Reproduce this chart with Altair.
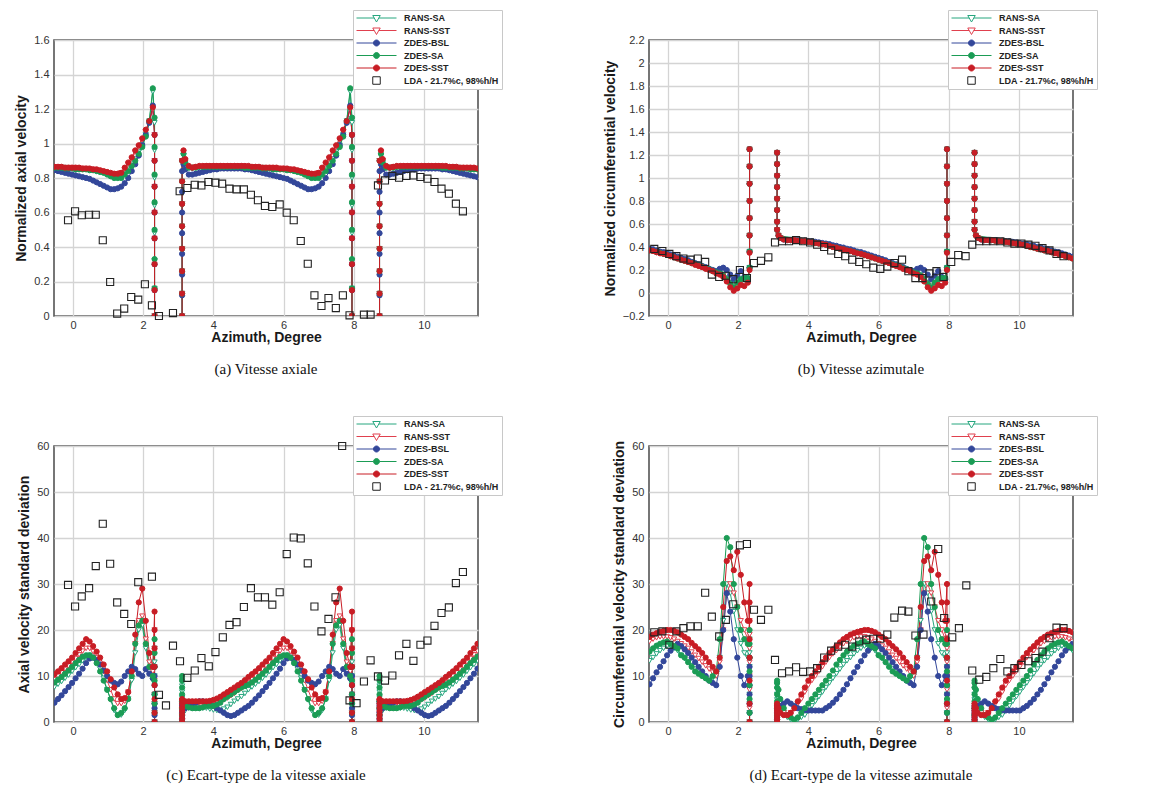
import altair as alt
import pandas as pd

# ---------------- data ----------------
PITCH = 5.625          # blade pitch (deg); the computed passage is plotted periodically
XMIN, XMAX = -0.54, 11.54

SERIES = ["RANS-SA", "RANS-SST", "ZDES-BSL", "ZDES-SA", "ZDES-SST"]
LDA_NAME = "LDA - 21.7%c, 98%h/H"

# azimuth grid of one computed passage (wall clusters at both ends)
AZ = [3.11, 3.11, 3.11, 3.11, 3.11, 3.11, 3.11, 3.11,
      3.15,
      3.2, 3.3, 3.4, 3.5, 3.6, 3.7, 3.8, 3.9,
      4.0, 4.1, 4.2, 4.3, 4.4, 4.5, 4.6, 4.7, 4.8, 4.9,
      5.0, 5.1, 5.2, 5.3, 5.4, 5.5, 5.6, 5.7, 5.8, 5.9,
      6.0, 6.1, 6.2, 6.3, 6.4, 6.5, 6.6, 6.7, 6.8, 6.9,
      7.0, 7.1, 7.2, 7.3, 7.4, 7.5, 7.6, 7.7, 7.8, 7.9,
      7.95, 7.95, 7.95, 7.95, 7.95, 7.95, 7.95, 7.95]

# (a) normalized axial velocity
A_RANS_SA = [0, 0.13, 0.26, 0.39, 0.52, 0.65, 0.78, 0.9,
             0.93,
             0.89, 0.86, 0.855, 0.86, 0.86, 0.86, 0.865, 0.865,
             0.865, 0.865, 0.865, 0.865, 0.865, 0.865, 0.865, 0.865, 0.865, 0.86,
             0.86, 0.86, 0.86, 0.86, 0.86, 0.855, 0.855, 0.855, 0.85, 0.85,
             0.85, 0.85, 0.845, 0.84, 0.835, 0.83, 0.82, 0.81, 0.80, 0.80,
             0.81, 0.82, 0.85, 0.88, 0.91, 0.95, 0.99, 1.05, 1.13, 1.30,
             1.12, 0.96, 0.8, 0.64, 0.48, 0.32, 0.16, 0]
A_RANS_SST = [0, 0.13, 0.26, 0.39, 0.52, 0.65, 0.78, 0.9,
              0.95,
              0.9, 0.86, 0.86, 0.865, 0.865, 0.865, 0.87, 0.87,
              0.87, 0.87, 0.87, 0.87, 0.87, 0.87, 0.87, 0.87, 0.87, 0.865,
              0.865, 0.865, 0.865, 0.86, 0.86, 0.86, 0.86, 0.86, 0.855, 0.855,
              0.855, 0.85, 0.85, 0.845, 0.84, 0.835, 0.83, 0.825, 0.82, 0.82,
              0.83, 0.85, 0.88, 0.91, 0.95, 0.98, 1.02, 1.07, 1.12, 1.20,
              1.05, 0.9, 0.75, 0.6, 0.45, 0.3, 0.15, 0]
A_ZDES_BSL = [0, 0.12, 0.24, 0.36, 0.48, 0.6, 0.72, 0.84,
              0.88,
              0.85, 0.82, 0.82, 0.825, 0.83, 0.835, 0.84, 0.845,
              0.85, 0.85, 0.855, 0.855, 0.855, 0.855, 0.855, 0.855, 0.855, 0.85,
              0.85, 0.845, 0.84, 0.835, 0.83, 0.825, 0.82, 0.815, 0.81, 0.805,
              0.80, 0.795, 0.785, 0.775, 0.765, 0.755, 0.745, 0.735, 0.735, 0.74,
              0.75, 0.77, 0.80, 0.84, 0.88, 0.93, 0.99, 1.05, 1.12, 1.22,
              1.05, 0.9, 0.75, 0.6, 0.45, 0.3, 0.15, 0]
A_ZDES_SA = [0, 0.13, 0.26, 0.39, 0.52, 0.65, 0.78, 0.9,
             0.94,
             0.89, 0.86, 0.86, 0.86, 0.865, 0.865, 0.865, 0.865,
             0.865, 0.865, 0.865, 0.865, 0.865, 0.865, 0.865, 0.865, 0.865, 0.86,
             0.86, 0.86, 0.86, 0.86, 0.855, 0.855, 0.855, 0.85, 0.85, 0.85,
             0.85, 0.845, 0.845, 0.84, 0.835, 0.83, 0.82, 0.81, 0.80, 0.80,
             0.80, 0.82, 0.84, 0.87, 0.90, 0.94, 0.98, 1.04, 1.13, 1.32,
             1.15, 0.98, 0.82, 0.66, 0.5, 0.33, 0.16, 0]
A_ZDES_SST = [0, 0.13, 0.26, 0.39, 0.52, 0.65, 0.78, 0.9,
              0.96,
              0.91, 0.87, 0.86, 0.865, 0.87, 0.87, 0.87, 0.87,
              0.87, 0.87, 0.87, 0.87, 0.87, 0.87, 0.87, 0.87, 0.87, 0.87,
              0.87, 0.865, 0.865, 0.865, 0.86, 0.86, 0.86, 0.86, 0.86, 0.855,
              0.855, 0.855, 0.85, 0.85, 0.845, 0.84, 0.835, 0.83, 0.825, 0.825,
              0.83, 0.86, 0.89, 0.92, 0.96, 0.99, 1.03, 1.08, 1.13, 1.21,
              1.05, 0.9, 0.75, 0.6, 0.45, 0.3, 0.15, 0]

# (b) normalized circumferential velocity
B_RANS_SA = [1.22, 1.12, 1.02, 0.92, 0.82, 0.72, 0.62, 0.55,
             0.5,
             0.48, 0.47, 0.465, 0.465, 0.46, 0.46, 0.455, 0.45,
             0.445, 0.44, 0.435, 0.43, 0.425, 0.42, 0.41, 0.405, 0.395, 0.39,
             0.38, 0.375, 0.365, 0.36, 0.35, 0.34, 0.335, 0.325, 0.315, 0.305,
             0.295, 0.285, 0.275, 0.265, 0.25, 0.24, 0.23, 0.215, 0.205, 0.195,
             0.18, 0.17, 0.16, 0.13, 0.09, 0.06, 0.08, 0.10, 0.11, 0.12,
             0.22, 0.36, 0.5, 0.65, 0.8, 0.95, 1.1, 1.25]
B_RANS_SST = [1.22, 1.12, 1.02, 0.92, 0.82, 0.72, 0.62, 0.55,
              0.5,
              0.48, 0.465, 0.46, 0.46, 0.46, 0.455, 0.45, 0.45,
              0.445, 0.44, 0.435, 0.43, 0.425, 0.42, 0.41, 0.40, 0.395, 0.385,
              0.38, 0.37, 0.365, 0.355, 0.345, 0.34, 0.33, 0.32, 0.31, 0.30,
              0.29, 0.28, 0.27, 0.26, 0.245, 0.235, 0.225, 0.21, 0.20, 0.19,
              0.18, 0.16, 0.15, 0.12, 0.07, 0.04, 0.06, 0.08, 0.08, 0.10,
              0.2, 0.35, 0.5, 0.65, 0.8, 0.95, 1.1, 1.25]
B_ZDES_BSL = [1.22, 1.12, 1.02, 0.92, 0.82, 0.72, 0.62, 0.55,
              0.5,
              0.48, 0.465, 0.46, 0.46, 0.46, 0.46, 0.455, 0.455,
              0.45, 0.45, 0.445, 0.44, 0.435, 0.43, 0.425, 0.415, 0.41, 0.40,
              0.395, 0.385, 0.38, 0.37, 0.36, 0.355, 0.345, 0.335, 0.325, 0.315,
              0.305, 0.295, 0.285, 0.27, 0.26, 0.25, 0.235, 0.225, 0.21, 0.20,
              0.19, 0.21, 0.22, 0.20, 0.16, 0.12, 0.15, 0.19, 0.14, 0.12,
              0.22, 0.36, 0.5, 0.65, 0.8, 0.95, 1.1, 1.25]
B_ZDES_SA = [1.22, 1.12, 1.02, 0.92, 0.82, 0.72, 0.62, 0.55,
             0.5,
             0.48, 0.47, 0.465, 0.46, 0.46, 0.455, 0.45, 0.45,
             0.445, 0.44, 0.435, 0.43, 0.425, 0.42, 0.41, 0.40, 0.395, 0.385,
             0.38, 0.37, 0.365, 0.355, 0.35, 0.34, 0.33, 0.32, 0.31, 0.30,
             0.29, 0.28, 0.27, 0.26, 0.25, 0.24, 0.23, 0.215, 0.205, 0.19,
             0.18, 0.17, 0.15, 0.12, 0.08, 0.05, 0.09, 0.12, 0.13, 0.13,
             0.22, 0.36, 0.5, 0.65, 0.8, 0.95, 1.1, 1.25]
B_ZDES_SST = [1.22, 1.12, 1.02, 0.92, 0.82, 0.72, 0.62, 0.55,
              0.5,
              0.48, 0.465, 0.46, 0.46, 0.46, 0.455, 0.45, 0.45,
              0.445, 0.44, 0.435, 0.43, 0.425, 0.42, 0.41, 0.40, 0.395, 0.385,
              0.38, 0.37, 0.365, 0.355, 0.345, 0.34, 0.33, 0.32, 0.31, 0.30,
              0.29, 0.28, 0.27, 0.26, 0.245, 0.235, 0.225, 0.21, 0.20, 0.19,
              0.17, 0.16, 0.14, 0.10, 0.05, 0.02, 0.04, 0.07, 0.06, 0.09,
              0.2, 0.35, 0.5, 0.65, 0.8, 0.95, 1.1, 1.25]

# (c) axial velocity standard deviation
C_RANS_SA = [0, 1.3, 2.6, 3.9, 5.2, 6.5, 7.8, 9,
             3,
             2.5, 3, 3, 3, 3, 3, 3, 2.8,
             2.6, 2.5, 2.5, 2.8, 3.2, 3.8, 4.5, 5.0, 5.5, 6.2,
             7, 7.6, 8.2, 8.8, 9.5, 10.2, 11, 11.8, 12.5, 13.3,
             14, 14.5, 14, 13, 11.5, 9.5, 7, 4.8, 2.5, 1.5,
             1.5, 2.5, 5, 9, 15, 20, 21, 16, 11, 9,
             16, 13, 10, 8, 6, 4, 2, 0]
C_RANS_SST = [0, 0.8, 1.6, 2.4, 3.2, 4, 4.5, 4.5,
              3.5,
              3.5, 4, 4, 4, 4, 4, 4, 4,
              4, 4.2, 4.5, 4.8, 5.2, 5.7, 6.2, 6.8, 7.3, 7.9,
              8.5, 9.2, 10, 10.7, 11.5, 12.2, 13, 13.8, 14.6, 15.4,
              16, 16, 15.3, 14, 12.5, 11, 9, 7, 5, 4,
              4, 4.5, 6.5, 11, 17, 22, 23, 18, 13, 11,
              20, 16, 12, 9, 6, 4, 2, 0]
C_ZDES_BSL = [0, 0.7, 1.4, 2.1, 2.8, 3.5, 4, 4.5,
              3,
              3, 3.5, 4, 4.2, 4.5, 4.5, 4.2, 4,
              3.5, 3, 2.5, 2, 1.5, 1.3, 1.5, 2, 2.5, 3,
              3.5, 4.2, 5, 5.8, 6.7, 7.6, 8.5, 9.5, 10.5, 11.6,
              12.8, 13.8, 14, 13.5, 12.5, 11.2, 10, 9, 8.5, 8.2,
              8.8, 10, 11, 12, 11.5, 10.5, 10, 11.5, 10.5, 9.5,
              12, 10, 8, 6, 4, 3, 1.5, 0]
C_ZDES_SA = [0, 1.5, 3, 4.5, 6, 7.5, 9, 10,
             4,
             3.5, 3.2, 3, 3, 3, 3.2, 3.5, 3.5,
             3.5, 3.8, 4.2, 5, 5.5, 6, 6.5, 7, 7.5, 7.8,
             8.2, 8.6, 9.2, 9.8, 10.5, 11.2, 12, 12.8, 13.5, 14.2,
             14.5, 14.5, 14, 12.8, 11, 9, 7, 5, 3, 1.5,
             2, 3, 5, 10, 17, 21, 22, 17, 12, 10,
             18, 15, 12, 9, 6, 4, 2, 0]
C_ZDES_SST = [0, 0.8, 1.6, 2.4, 3.2, 4, 4.8, 5,
              4.5,
              4.5, 4.5, 4.5, 4.5, 4.5, 4.5, 4.5, 4.6,
              4.8, 5.1, 5.5, 6.0, 6.5, 7.0, 7.5, 8.0, 8.5, 9.1,
              9.8, 10.4, 11.0, 11.7, 12.5, 13.2, 14.0, 15.0, 16.0, 17.0,
              18.0, 17.5, 16.5, 15.3, 14.0, 12.5, 11.0, 9.3, 7.5, 6.0,
              5.0, 5.2, 6.5, 11, 19, 26, 29, 22, 15, 12,
              24, 20, 16, 12, 8, 5, 2, 0]

# (d) circumferential velocity standard deviation
D_RANS_SA = [0, 1.2, 2.4, 3.6, 4.8, 6, 7, 8,
             5,
             3.5, 2, 1, 0.5, 0.5, 0.5, 1, 1.5,
             2.5, 3.5, 4.5, 5.5, 6.5, 7.5, 8.5, 9.5, 10.5, 11.5,
             12.5, 13.3, 14, 14.8, 15.5, 16, 16.5, 16.5, 16, 15.5,
             14.5, 13.8, 13, 12.2, 11.5, 10.8, 10, 9.5, 9, 9.5,
             10, 14, 22, 30, 28, 24, 20, 17, 15, 14,
             18, 15, 12, 9, 6, 4, 2, 0]
D_RANS_SST = [0, 0.5, 1, 1.5, 2, 2.5, 3, 3.5,
              3,
              2.5, 2, 1.5, 2, 3, 4, 5, 6.5,
              8, 9, 10, 11, 12, 13, 14, 14.8, 15.5, 16.3,
              17, 17.5, 18, 18.3, 18.5, 18.5, 18.5, 18.3, 18, 17.5,
              17, 16.5, 16, 15.2, 14.5, 13.8, 13, 12.2, 11.5, 10.8,
              10, 13, 20, 28, 30, 28, 25, 22, 20, 18,
              22, 19, 16, 13, 10, 7, 3, 0]
D_ZDES_BSL = [0, 0.5, 1, 1.5, 2, 2.5, 3, 3.5,
              3.5,
              3.5, 4, 4.5, 4, 3.5, 3, 2.8, 2.6,
              2.5, 2.5, 2.5, 2.5, 2.5, 3, 3.5, 4.2, 5, 6,
              7, 8.2, 9.5, 10.8, 12, 13.2, 14.5, 15.5, 16.3, 17,
              16.5, 15.8, 15, 14, 13, 12, 11, 10, 9, 8.5,
              8, 12, 20, 28, 24, 18, 14, 10, 8, 10,
              14, 12, 10, 8, 6, 4, 2, 0]
D_ZDES_SA = [0, 1.5, 3, 4.5, 6, 7.5, 8.5, 9,
             7,
             5, 3, 1.5, 1, 0.5, 1, 2, 3,
             4, 5, 6, 7, 8, 9, 10, 11.2, 12.5, 13.5,
             14.5, 15.3, 16, 16.6, 17, 17.3, 17.5, 17, 16.5, 16,
             14.5, 14, 13, 12, 11, 10.5, 10, 9.5, 9, 10,
             11, 18, 30, 40, 38, 30, 25, 20, 18, 17,
             20, 17, 14, 11, 8, 5, 2, 0]
D_ZDES_SST = [0, 0.6, 1.2, 1.8, 2.4, 3, 3.5, 4,
              3,
              2, 1.5, 1.5, 2, 3, 4.5, 6, 7.5,
              9, 10, 11, 12, 13, 14, 15, 15.8, 16.5, 17.3,
              18, 18.5, 19, 19.3, 19.6, 19.8, 20, 20, 19.8, 19.5,
              19, 18.5, 18, 17.2, 16.5, 15.8, 15, 14, 13, 12,
              11, 14, 25, 35, 36, 33, 37, 32, 26, 22,
              30, 26, 22, 18, 14, 9, 4, 0]

# LDA measurements
LDA_A_X = [-0.14, 0.06, 0.25, 0.46, 0.65, 0.85, 1.06, 1.26, 1.46, 1.66, 1.86, 2.05, 2.25, 2.45,
           2.85, 3.04, 3.26, 3.47, 3.66, 3.86, 4.06, 4.25, 4.46, 4.66, 4.87, 5.07, 5.27, 5.47,
           5.68, 5.89, 6.09, 6.29, 6.49, 6.69, 6.88, 7.08, 7.28, 7.49, 7.69, 7.88, 8.29, 8.48,
           8.69, 8.89, 9.10, 9.29, 9.50, 9.70, 9.90, 10.10, 10.30, 10.50, 10.71, 10.91, 11.11]
LDA_A_Y = [0.555, 0.607, 0.584, 0.587, 0.587, 0.439, 0.197, 0.014, 0.043, 0.110, 0.095, 0.184, 0.062, 0.0,
           0.017, 0.723, 0.742, 0.761, 0.757, 0.777, 0.773, 0.767, 0.738, 0.734, 0.734, 0.703, 0.671, 0.638,
           0.632, 0.647, 0.599, 0.555, 0.435, 0.303, 0.120, 0.058, 0.104, 0.046, 0.120, 0.004, 0.008, 0.008,
           0.757, 0.786, 0.812, 0.802, 0.812, 0.815, 0.806, 0.796, 0.777, 0.738, 0.709, 0.651, 0.607]

LDA_B_X = [-0.39, -0.16, 0.04, 0.24, 0.44, 0.64, 0.85, 1.06, 1.25, 1.46, 1.65, 1.86, 2.05, 2.25,
           2.45, 2.65, 2.86, 3.05, 3.25, 3.45, 3.65, 3.85, 4.05, 4.25, 4.45, 4.65, 4.85, 5.05,
           5.25, 5.45, 5.65, 5.85, 6.05, 6.25, 6.45, 6.67, 6.85, 7.05, 7.25, 7.45, 7.65, 7.85,
           8.07, 8.27, 8.48, 8.67, 8.87, 9.07, 9.27, 9.47, 9.67, 9.87, 10.07, 10.27, 10.47, 10.67,
           10.87, 11.07, 11.27]
LDA_B_Y = [0.383, 0.365, 0.34, 0.32, 0.30, 0.29, 0.30, 0.27, 0.16, 0.14, 0.15, 0.12, 0.20, 0.13,
           0.26, 0.28, 0.31, 0.44, 0.45, 0.45, 0.46, 0.45, 0.44, 0.42, 0.40, 0.37, 0.34, 0.32,
           0.29, 0.27, 0.25, 0.22, 0.21, 0.23, 0.26, 0.29, 0.19, 0.13, 0.13, 0.17, 0.19, 0.14,
           0.27, 0.33, 0.32, 0.42, 0.45, 0.45, 0.45, 0.45, 0.44, 0.43, 0.43, 0.42, 0.41, 0.39,
           0.37, 0.34, 0.32]

LDA_C_X = [-0.14, 0.06, 0.25, 0.46, 0.65, 0.85, 1.06, 1.26, 1.46, 1.66, 1.86, 2.25, 2.45, 2.65,
           2.85, 3.05, 3.26, 3.47, 3.66, 3.87, 4.06, 4.27, 4.46, 4.66, 4.87, 5.07, 5.27, 5.47,
           5.68, 5.89, 6.09, 6.29, 6.49, 6.69, 6.88, 7.08, 7.28, 7.48, 7.67, 7.88, 8.08, 8.29,
           8.48, 8.69, 8.89, 9.10, 9.29, 9.50, 9.70, 9.90, 10.10, 10.30, 10.50, 10.71, 10.91, 11.11]
LDA_C_Y = [29.8, 25.1, 27.3, 29.1, 33.9, 43.1, 34.4, 26.0, 23.5, 21.3, 30.4, 31.6, 5.9, 3.6,
           16.6, 13.2, 9.6, 11.2, 13.9, 12.1, 15.2, 18.4, 21.1, 21.7, 25.0, 29.1, 27.1, 27.1,
           25.5, 28.2, 36.5, 40.1, 39.9, 34.5, 25.1, 19.7, 22.4, 27.1, 60.0, 4.7, 4.1, 8.8,
           13.4, 9.9, 9.0, 10.1, 14.5, 17.0, 13.3, 16.8, 17.7, 20.9, 23.7, 24.9, 30.2, 32.6]

LDA_D_X = [-0.39, -0.16, 0.04, 0.24, 0.44, 0.64, 0.85, 1.06, 1.25, 1.46, 1.65, 1.86, 2.05, 2.25,
           2.45, 2.65, 2.86, 3.05, 3.25, 3.45, 3.65, 3.85, 4.05, 4.25, 4.45, 4.65, 4.85, 5.05,
           5.25, 5.45, 5.65, 5.85, 6.05, 6.25, 6.45, 6.67, 6.85, 7.05, 7.28, 7.50, 7.70, 7.87,
           8.10, 8.29, 8.50, 8.67, 8.87, 9.07, 9.27, 9.47, 9.67, 9.87, 10.07, 10.27, 10.47, 10.67,
           10.87, 11.07, 11.27]
LDA_D_Y = [19.5, 19.7, 16.8, 19.7, 20.4, 20.8, 20.8, 28.1, 22.9, 18.6, 22.2, 25.6, 38.4, 38.7,
           24.4, 22.2, 24.4, 13.5, 10.6, 11.0, 11.9, 10.9, 11.0, 11.7, 14.0, 15.5, 16.4, 16.8,
           16.4, 17.5, 17.9, 18.1, 18.1, 19.0, 22.7, 24.2, 24.0, 18.8, 19.0, 26.2, 37.6, 22.6,
           18.4, 20.4, 29.7, 11.2, 9.2, 9.8, 11.7, 13.7, 11.0, 11.7, 12.4, 13.2, 13.9, 15.3,
           18.2, 20.5, 20.4]

# ---------------- styles ----------------
STROKES = ["#26a67e", "#e0404e", "#33479a", "#1b9c55", "#c81d25"]
FILLS = ["white", "white", "#33479a", "#1b9c55", "#c81d25"]
SHAPES = ["triangle-down", "triangle-down", "circle", "circle", "circle"]

LINE_TRI = "M-4,0H-0.46M0.46,0H4M-0.75,-0.5L0.75,-0.5L0,0.8Z"
LINE_CIR = "M-4,0H-0.6M0.6,0H4M0.6,0A0.6,0.6 0 1,1 -0.6,0A0.6,0.6 0 1,1 0.6,0Z"
SQUARE = "M-0.75,-0.75H0.75V0.75H-0.75Z"
LEG_NAMES = SERIES + [LDA_NAME]
LEG_STROKES = STROKES + ["#222222"]
LEG_FILLS = FILLS + ["white"]
LEG_SHAPES = [LINE_TRI, LINE_TRI, LINE_CIR, LINE_CIR, LINE_CIR, SQUARE]


def cfd_frame(all_vals):
    rows = []
    for s, vals in zip(SERIES, all_vals):
        assert len(vals) == len(AZ), (s, len(vals))
        for k in (-1, 0, 1):
            for i, (a, v) in enumerate(zip(AZ, vals)):
                x = a + k * PITCH
                if XMIN - 0.15 <= x <= XMAX + 0.15:
                    rows.append({"az": x, "val": v, "series": s, "copy": k, "idx": i})
    return pd.DataFrame(rows)


def panel(all_vals, lx, ly, ydom, yvals, ytitle, sub):
    assert len(lx) == len(ly)
    df = cfd_frame(all_vals)
    lda = pd.DataFrame({"az": lx, "val": ly})
    x = alt.X("az:Q", scale=alt.Scale(domain=[XMIN, XMAX], nice=False, zero=False),
              axis=alt.Axis(values=[0, 2, 4, 6, 8, 10], title="Azimuth, Degree", format="~r"))
    y = alt.Y("val:Q", scale=alt.Scale(domain=ydom, nice=False, zero=False),
              axis=alt.Axis(values=yvals, title=ytitle, format="~r"))
    lines = alt.Chart(df).mark_line(strokeWidth=1, clip=True).encode(
        x=x, y=y,
        color=alt.Color("series:N", scale=alt.Scale(domain=SERIES, range=STROKES), legend=None),
        detail="copy:N", order="idx:Q")
    pts = alt.Chart(df).mark_point(size=27, strokeWidth=1, opacity=1, clip=True).encode(
        x=x, y=y,
        stroke=alt.Stroke("series:N", scale=alt.Scale(domain=SERIES, range=STROKES), legend=None),
        fill=alt.Fill("series:N", scale=alt.Scale(domain=SERIES, range=FILLS), legend=None),
        shape=alt.Shape("series:N", scale=alt.Scale(domain=SERIES, range=SHAPES), legend=None))
    ldapts = alt.Chart(lda).mark_point(shape="square", size=50, stroke="#222222", strokeWidth=1.1,
                                       fill="white", fillOpacity=0, opacity=1).encode(x=x, y=y)
    leg = alt.Legend(orient="none", legendX=299, legendY=-30, title=None,
                     labelFont="Liberation Sans", labelFontWeight="bold", labelFontSize=9,
                     labelColor="#222222", padding=3, fillColor="white", strokeColor="#c8c8c8",
                     symbolSize=100, symbolOffset=15, labelOffset=22, rowPadding=2.5,
                     clipHeight=10, symbolStrokeWidth=1)
    legdf = pd.DataFrame({"name": LEG_NAMES})
    legl = alt.Chart(legdf).transform_filter("false").mark_point(opacity=1).encode(
        stroke=alt.Stroke("name:N", scale=alt.Scale(domain=LEG_NAMES, range=LEG_STROKES), legend=leg),
        fill=alt.Fill("name:N", scale=alt.Scale(domain=LEG_NAMES, range=LEG_FILLS), legend=leg),
        shape=alt.Shape("name:N", scale=alt.Scale(domain=LEG_NAMES, range=LEG_SHAPES), legend=leg))
    return alt.layer(lines, pts, ldapts, legl).resolve_scale(
        stroke="independent", fill="independent", shape="independent"
    ).properties(
        width=424, height=276,
        title=alt.TitleParams(text=sub, orient="bottom", font="Liberation Serif", fontSize=15,
                              fontWeight="normal", color="#111111", offset=18, anchor="middle"))


YA = [0, 0.2, 0.4, 0.6, 0.8, 1, 1.2, 1.4, 1.6]
YB = [-0.2, 0, 0.2, 0.4, 0.6, 0.8, 1, 1.2, 1.4, 1.6, 1.8, 2, 2.2]
YC = [0, 10, 20, 30, 40, 50, 60]

pa = panel([A_RANS_SA, A_RANS_SST, A_ZDES_BSL, A_ZDES_SA, A_ZDES_SST], LDA_A_X, LDA_A_Y,
           [0, 1.6], YA, "Normalized axial velocity", "(a)  Vitesse axiale")
pb = panel([B_RANS_SA, B_RANS_SST, B_ZDES_BSL, B_ZDES_SA, B_ZDES_SST], LDA_B_X, LDA_B_Y,
           [-0.2, 2.2], YB, "Normalized circumferential velocity", "(b)  Vitesse azimutale")
pc = panel([C_RANS_SA, C_RANS_SST, C_ZDES_BSL, C_ZDES_SA, C_ZDES_SST], LDA_C_X, LDA_C_Y,
           [0, 60], YC, "Axial velocity standard deviation", "(c)  Ecart-type de la vitesse axiale")
pd_ = panel([D_RANS_SA, D_RANS_SST, D_ZDES_BSL, D_ZDES_SA, D_ZDES_SST], LDA_D_X, LDA_D_Y,
            [0, 60], YC, "Circumferential velocity standard deviation",
            "(d)  Ecart-type de la vitesse azimutale")

chart = alt.concat(pa, pb, pc, pd_, columns=2, spacing={"row": 130, "column": 171},
                   bounds="flush").properties(
    padding={"left": 5, "top": 0, "right": 5, "bottom": 5}
).configure_view(stroke="#4a4a4a", strokeWidth=1.5).configure_axis(
    grid=True, gridColor="#d4d4d4", gridWidth=1.3, domain=False, ticks=False,
    labelFont="Liberation Sans", labelFontSize=11, labelColor="#333333", labelPadding=5,
    titleFont="Liberation Sans", titleFontSize=14, titleFontWeight="bold", titleColor="#1a1a1a",
    titlePadding=5
).configure_axisX(labelPadding=3, titlePadding=0)

chart.save("out.html", embed_options={"renderer": "svg", "actions": False})
